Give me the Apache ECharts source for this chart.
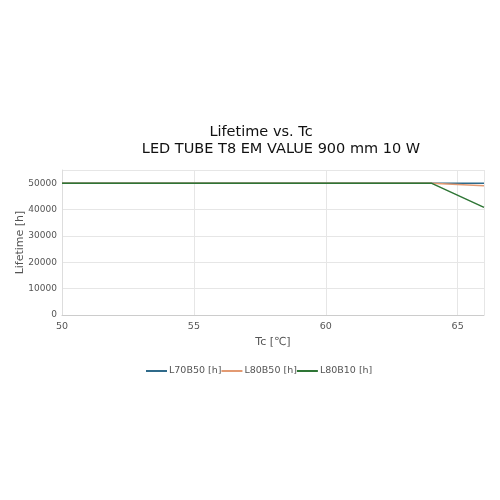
<!DOCTYPE html>
<html>
<head>
<meta charset="utf-8">
<script src="https://cdn.jsdelivr.net/npm/echarts@6/dist/echarts.min.js"></script>
<style>
    html, body { margin: 0; padding: 0; background: #fff; }
    #chart { width: 500px; height: 500px; }
</style>
</head>
<body>
<div id="chart"></div>
<script>
    // Tc values and lifetimes per series
    var tc = [50, 64, 66];
    var l70b50 = [50000, 50000, 50000];
    var l80b50 = [50000, 50000, 49000];
    var l80b10 = [50000, 50000, 40800];
    var seriesNames = ["L70B50 [h]", "L80B50 [h]", "L80B10 [h]"];
    var seriesColors = ["#2f6a8a", "#e39a72", "#2e7535"];

    function pairs(ys) {
        var out = [];
        for (var i in tc) {
            out.push([tc[i], ys[i]]);
        }
        return out;
    }

    var font = "DejaVu Sans";
    var chart = echarts.init(document.getElementById("chart"));
    var option = {
        animation: false,
        textStyle: { fontFamily: font },
        title: [{
            text: "Lifetime vs. Tc",
            left: 256,
            top: 120,
            textAlign: "center",
            textStyle: { fontFamily: font, fontSize: 14.5, fontWeight: "normal", color: "#111" }
        }, {
            text: "LED TUBE T8 EM VALUE 900 mm 10 W",
            left: 276,
            top: 137,
            textAlign: "center",
            textStyle: { fontFamily: font, fontSize: 14.5, fontWeight: "normal", color: "#111" }
        }],
        legend: {
            data: seriesNames,
            top: 361,
            left: 141,
            itemGap: 0,
            itemWidth: 21,
            itemHeight: 10,
            icon: "path://M0,4 L21,4 L21,6 L0,6 Z",
            textStyle: { fontFamily: font, fontSize: 9.5, color: "#555", padding: [0, 0, 0, -3] }
        },
        grid: { left: 62, right: 16, top: 170, bottom: 185, outerBoundsMode: "none" },
        xAxis: {
            type: "value",
            min: 50,
            max: 66,
            interval: 5,
            name: "Tc [\u2103]",
            nameLocation: "middle",
            nameGap: 22,
            nameMoveOverlap: false,
            nameTextStyle: { fontFamily: font, fontSize: 11, color: "#555" },
            axisLine: { lineStyle: { color: "#ccc" } },
            axisTick: { show: false },
            axisLabel: { fontFamily: font, fontSize: 9.5, color: "#555", margin: 7, showMaxLabel: false },
            splitLine: { show: true, lineStyle: { color: "#e6e6e6" } }
        },
        yAxis: {
            type: "value",
            min: 0,
            max: 55000,
            interval: 10000,
            name: "Lifetime [h]",
            nameLocation: "middle",
            nameGap: 36,
            nameMoveOverlap: false,
            nameTextStyle: { fontFamily: font, fontSize: 11, color: "#555" },
            axisLine: { show: true, lineStyle: { color: "#ddd" } },
            axisTick: { show: false },
            axisLabel: {
                fontFamily: font, fontSize: 9, color: "#555", margin: 5,
                formatter: function(v) { return v > 50000 ? "" : String(v); }
            },
            splitLine: { show: true, lineStyle: { color: "#e6e6e6" } }
        },
        series: [
            { name: seriesNames[0], type: "line", data: pairs(l70b50), showSymbol: false, lineStyle: { width: 1.5 }, color: seriesColors[0] },
            { name: seriesNames[1], type: "line", data: pairs(l80b50), showSymbol: false, lineStyle: { width: 1.5 }, color: seriesColors[1] },
            { name: seriesNames[2], type: "line", data: pairs(l80b10), showSymbol: false, lineStyle: { width: 1.5 }, color: seriesColors[2] }
        ]
    };
    chart.setOption(option);
</script>
</body>
</html>
